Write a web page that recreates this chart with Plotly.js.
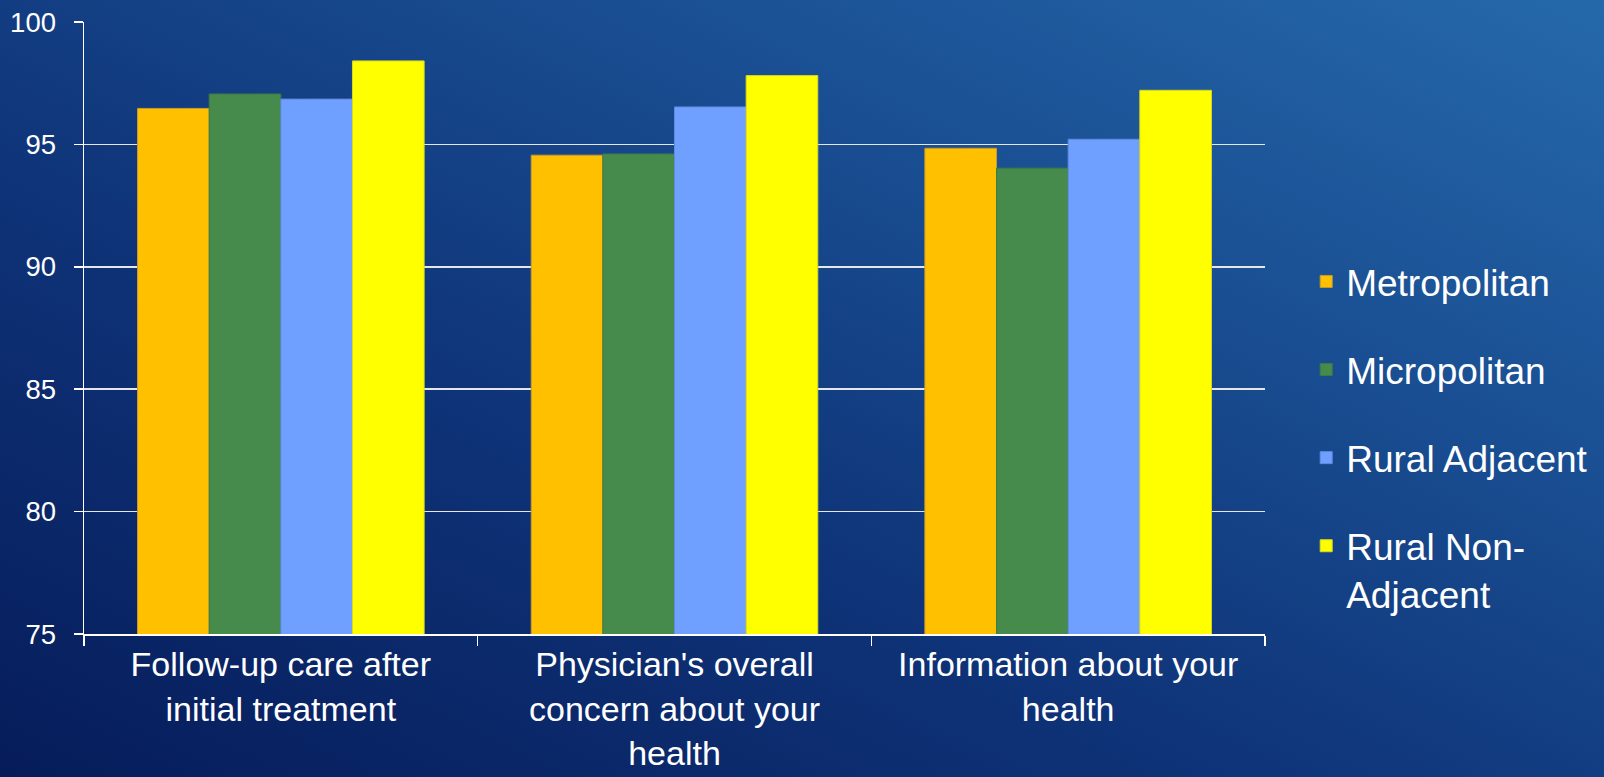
<!DOCTYPE html>
<html>
<head>
<meta charset="utf-8">
<script src="https://cdn.plot.ly/plotly-3.0.1.min.js"></script>
<style>
  html, body { margin: 0; padding: 0; width: 1604px; height: 777px; overflow: hidden; }
  body { background: linear-gradient(to top right, #061c5a 0%, #0f3479 40%, #1a4f93 70%, #2569ab 100%); }
  #chart { width: 1604px; height: 777px; }
</style>
</head>
<body>
<div id="chart"></div>
<script>
const categories = [
  "Follow-up care after<br>initial treatment",
  "Physician's overall<br>concern about your<br>health",
  "Information about your<br>health"
];
const seriesNames = ["Metropolitan", "Micropolitan", "Rural Adjacent", "Rural Non-<br>Adjacent"];
const metropolitan = [96.47, 94.56, 94.84];
const micropolitan = [97.06, 94.61, 94.03];
const ruralAdjacent = [96.85, 96.53, 95.21];
const ruralNonAdjacent = [98.41, 97.81, 97.21];
const yTickValues = [75, 80, 85, 90, 95, 100];

const colors = ["#FFC000", "#468A4C", "#70A0FF", "#FFFF00"];
const edgeColors = ["#C89A30", "#3E7A45", "#5F8BDD", "#D8D820"];
const seriesValues = [metropolitan, micropolitan, ruralAdjacent, ruralNonAdjacent];

const traces = seriesValues.map((vals, i) => ({
  type: "bar",
  name: seriesNames[i],
  x: categories,
  y: vals,
  legendgroup: "g" + i,
  marker: { color: colors[i], line: { color: edgeColors[i], width: 1 } },
  hoverinfo: "x+y+name"
}));

const font = "'Liberation Sans', Arial, sans-serif";

const layout = {
  width: 1604,
  height: 777,
  paper_bgcolor: "rgba(0,0,0,0)",
  plot_bgcolor: "rgba(0,0,0,0)",
  margin: { l: 84, r: 338, t: 22, b: 143, pad: 0 },
  barmode: "group",
  bargap: 0.272,
  bargroupgap: 0,
  font: { family: font, color: "#ffffff" },
  xaxis: {
    type: "category",
    tickson: "boundaries",
    ticks: "outside",
    ticklen: 10,
    tickwidth: 1.5,
    tickcolor: "#ffffff",
    showline: true,
    linecolor: "#ffffff",
    linewidth: 1.5,
    showgrid: false,
    ticklabelstandoff: 0,
    tickfont: { family: font, size: 34, color: "#ffffff" },
    fixedrange: true
  },
  yaxis: {
    range: [75, 100],
    tickvals: yTickValues,
    ticktext: yTickValues.map(String),
    ticks: "outside",
    ticklen: 9,
    tickwidth: 1.5,
    tickcolor: "#ffffff",
    showline: true,
    linecolor: "#ffffff",
    linewidth: 1.5,
    showgrid: true,
    gridcolor: "#e6e6e6",
    gridwidth: 1.5,
    zeroline: false,
    ticklabelstandoff: 12,
    tickfont: { family: font, size: 27.5, color: "#ffffff" },
    fixedrange: true
  },
  showlegend: true,
  legend: {
    x: 1.034,
    xanchor: "left",
    y: 0.626,
    yanchor: "top",
    bgcolor: "rgba(0,0,0,0)",
    font: { family: font, size: 37, color: "#ffffff" },
    tracegroupgap: 37,
    traceorder: "grouped",
    valign: "top"
  }
};

Plotly.newPlot("chart", traces, layout, { displayModeBar: false, staticPlot: true });
</script>
</body>
</html>
